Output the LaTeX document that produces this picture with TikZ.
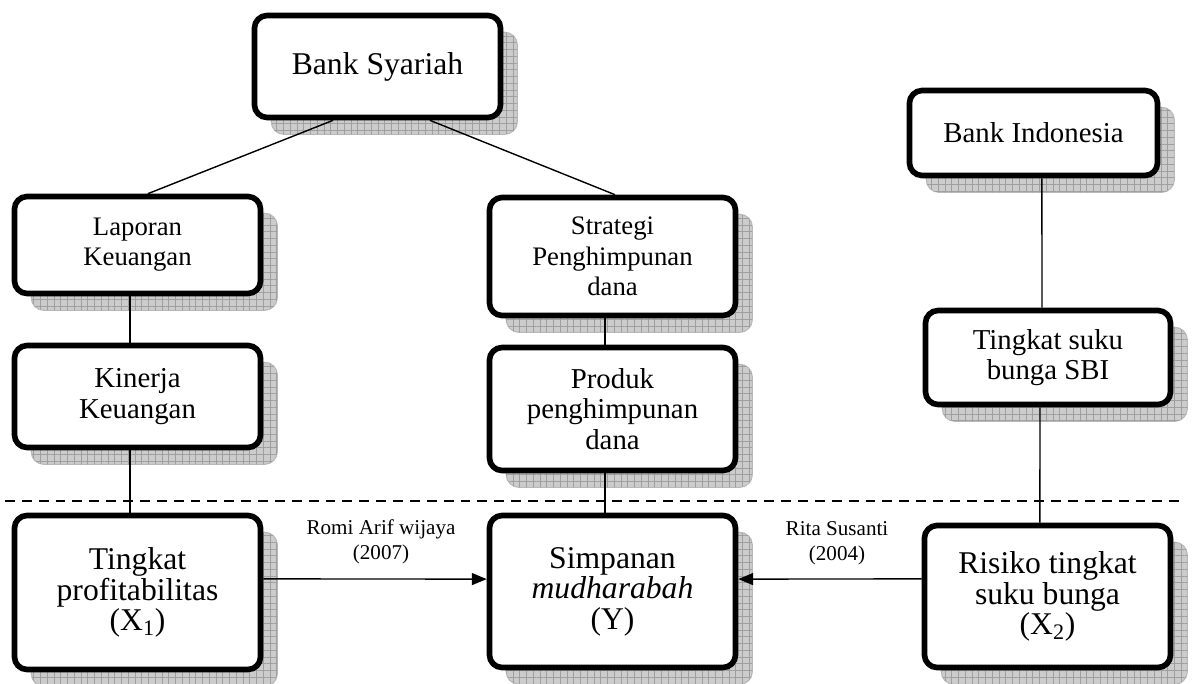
\documentclass[tikz,border=0pt]{standalone}
\usepackage{fontspec}
\setmainfont{Liberation Serif}
\usetikzlibrary{positioning}
\usetikzlibrary{calc}
\usetikzlibrary{shadows}
\usetikzlibrary{patterns.meta}
\usetikzlibrary{arrows.meta}

\begin{document}
\begin{tikzpicture}[
    x=0.025cm, y=-0.025cm,
    % boxes: thick rounded frame with a grid-filled drop shadow
    box/.style={rectangle, draw, line width=4pt, rounded corners=9pt, fill=white,
        align=center, inner sep=2pt, minimum width=6.15cm,
        general shadow={shadow xshift=0.42cm, shadow yshift=-0.42cm,
            fill=gray!40, draw=gray!55, line width=0.8pt},
        general shadow={shadow xshift=0.42cm, shadow yshift=-0.42cm, draw=none,
            pattern={Hatch[angle=0,distance=4.8pt,line width=0.5pt]}, pattern color=gray!75}},
    big/.style={box, font=\fontsize{22.5}{21.7}\selectfont},
    mid/.style={box, font=\fontsize{20.5}{21.5}\selectfont},
    sml/.style={box, font=\fontsize{19}{21.5}\selectfont},
    cite/.style={align=center, inner sep=0pt, font=\fontsize{15}{17.8}\selectfont},
    edge/.style={draw, line width=1pt},
    infl/.style={draw, line width=1pt, -{Triangle[length=10.5pt,width=8.5pt]}},
    sep/.style={draw, line width=1pt, dash pattern=on 7pt off 5pt},
]
\useasboundingbox (0,0) rectangle (1199,684);

% =========================================================
% Left branch: bank side
% =========================================================
\node[big, minimum height=2.55cm]  (bs)   at (377.5, 66.5) {Bank Syariah};
\node[sml, minimum height=2.425cm] (lap)  at (137.5, 245)  {Laporan\\Keuangan};
\node[mid, minimum height=2.55cm]  (kin)  at (137.5, 396.5) {Kinerja\\Keuangan};
\node[big, minimum height=3.85cm]  (xone) at (137.5, 592.5) {Tingkat\\profitabilitas\\(X\textsubscript{1})};

% =========================================================
% Middle branch: funding side
% =========================================================
\node[sml, minimum height=2.95cm]  (str)  at (612.5, 256.5) {Strategi\\Penghimpunan\\dana};
\node[mid, minimum height=3.075cm] (prod) at (612.5, 409)   {Produk\\penghimpunan\\dana};
\node[big, minimum height=3.8cm]   (ym)   at (612.5, 591.5) {Simpanan\\\textit{mudharabah}\\(Y)};

% =========================================================
% Right branch: central bank side
% =========================================================
\node[mid, minimum width=6.2cm, minimum height=2.125cm] (bi) at (1033.5, 133) {Bank Indonesia};
\node[mid, minimum width=6.125cm, minimum height=2.35cm] (sbi) at (1048, 357.5) {Tingkat suku\\bunga SBI};
\node[big, minimum height=3.55cm]  (risk) at (1047.5, 596.5) {Risiko tingkat\\suku bunga\\(X\textsubscript{2})};

% tree links
\draw[edge] ([xshift=-1.11cm]bs.south) -- ([xshift=0.26cm]lap.north);
\draw[edge] ([xshift=1.31cm]bs.south) -- ([xshift=0.06cm]str.north);
\draw[edge] ([xshift=-0.19cm]lap.south) -- ([xshift=-0.19cm]kin.north);
\draw[edge] ([xshift=-0.19cm]kin.south) -- ([xshift=-0.19cm]xone.north);
\draw[edge] ([xshift=-0.19cm]str.south) -- ([xshift=-0.19cm]prod.north);
\draw[edge] ([xshift=-0.19cm]prod.south) -- ([xshift=-0.19cm]ym.north);
\draw[edge] ([xshift=0.21cm]bi.south) -- ([xshift=-0.15cm]sbi.north);
\draw[edge] ([xshift=-0.2cm]sbi.south) -- ([xshift=-0.19cm]risk.north);

% separator between concepts and variables
\coordinate (sepL) at (5, 501);
\coordinate (sepR) at (1180, 501);
\draw[sep] (sepL) -- (sepR);

% influence arrows with their sources
\draw[infl] ([yshift=0.34cm]xone.east) -- ([yshift=0.31cm]ym.west);
\draw[infl] ([yshift=0.44cm]risk.west) -- ([yshift=0.31cm]ym.east);
\node[cite] (romi) at (381, 542) {Romi Arif wijaya\\(2007)};
\node[cite] (rita) at (837, 543) {Rita Susanti\\(2004)};

\end{tikzpicture}
\end{document}
